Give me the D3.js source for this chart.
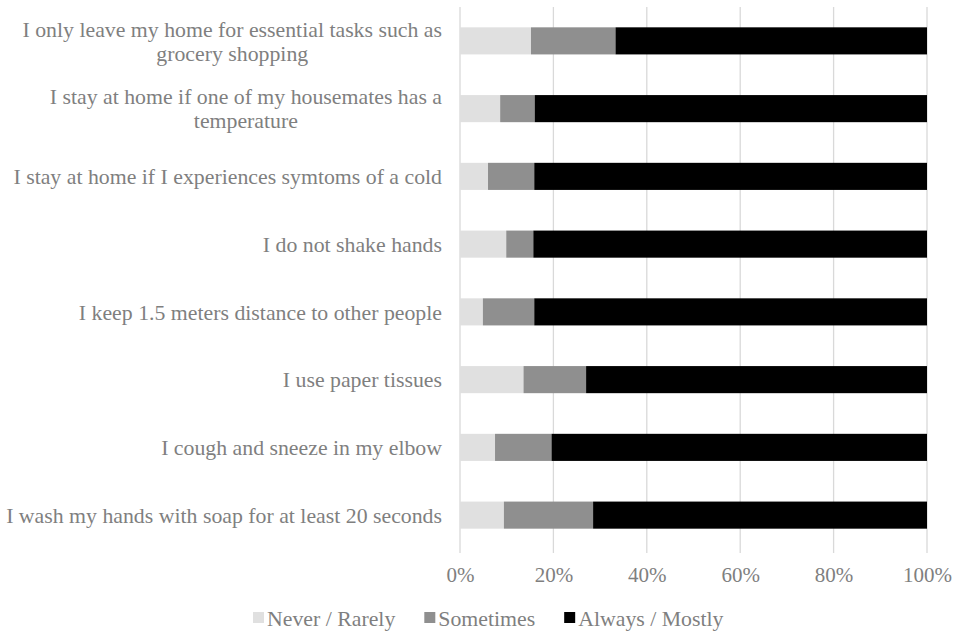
<!DOCTYPE html>
<html>
<head>
<meta charset="utf-8">
<script src="https://cdn.jsdelivr.net/npm/d3@7"></script>
<style>
  body { margin: 0; background: #fff; }
  text { font-family: "Liberation Serif", "Times New Roman", serif; fill: #7f7f7f; }
</style>
</head>
<body>
<svg id="chart" width="967" height="632"></svg>
<script>
// categories top to bottom, each label split into its printed lines
var categories = [
  ["I only leave my home for essential tasks such as", "grocery shopping"],
  ["I stay at home if one of my housemates has a", "temperature"],
  ["I stay at home if I experiences symtoms of a cold"],
  ["I do not shake hands"],
  ["I keep 1.5 meters distance to other people"],
  ["I use paper tissues"],
  ["I cough and sneeze in my elbow"],
  ["I wash my hands with soap for at least 20 seconds"]
];
var seriesNames = ["Never / Rarely", "Sometimes", "Always / Mostly"];
var neverRarely    = [15.2, 8.6, 6.0, 9.9, 4.9, 13.6, 7.5, 9.4];
var sometimes      = [18.1, 7.4, 9.9, 5.8, 11.0, 13.4, 12.1, 19.1];
var alwaysMostly   = [66.7, 84.0, 84.1, 84.3, 84.1, 73.0, 80.4, 71.5];
var tickValues = [0, 0.2, 0.4, 0.6, 0.8, 1.0];

var colors = ["#e0e0e0", "#8f8f8f", "#000000"];
var fontSize = 21.8, tickFontSize = 21;
var serif = "Liberation Serif, Times New Roman, serif";

var svg = d3.select("#chart");
var plotLeft = 460, plotRight = 927, plotTop = 7, plotBottom = 549;

var rows = categories.map(function(c, i) {
  return { key: i, label: c, v: [neverRarely[i], sometimes[i], alwaysMostly[i]] };
});

var x = d3.scaleLinear().domain([0, 1]).range([plotLeft, plotRight]);
var y = d3.scaleBand().domain(rows.map(function(d) { return d.key; }))
  .range([plotTop, plotBottom]).paddingInner(0.6).paddingOuter(0.3);

// gridlines
svg.append("g").selectAll("line").data(tickValues).join("line")
  .attr("x1", function(d) { return x(d); }).attr("x2", function(d) { return x(d); })
  .attr("y1", plotTop).attr("y2", plotBottom + 4)
  .attr("stroke", "#d9d9d9").attr("stroke-width", 1.3);

// stacked bars
var stack = d3.stack().keys([0, 1, 2])
  .value(function(d, k) { var s = d3.sum(d.v); return d.v[k] / s; });
var layers = stack(rows);

svg.append("g").selectAll("g").data(layers).join("g")
  .attr("fill", function(d) { return colors[d.key]; })
  .selectAll("rect").data(function(d) { return d; }).join("rect")
  .attr("x", function(d) { return x(d[0]); })
  .attr("width", function(d) { return x(d[1]) - x(d[0]); })
  .attr("y", function(d) { return y(d.data.key); })
  .attr("height", y.bandwidth());

// x axis tick labels
var xAxis = d3.axisBottom(x).tickValues(tickValues).tickSize(0).tickPadding(0)
  .tickFormat(d3.format(".0%"));
var gx = svg.append("g").attr("transform", "translate(0," + 567 + ")").call(xAxis);
gx.attr("font-family", serif);
gx.select(".domain").remove();
gx.selectAll("text").attr("font-size", tickFontSize).attr("fill", "#7f7f7f");

// category labels (multi-line labels centred within their block, block right-aligned)
var labelRight = 442, lineH = 24;
rows.forEach(function(r) {
  var g = svg.append("g").attr("font-family", serif);
  var cy = y(r.key) + y.bandwidth() / 2;
  var n = r.label.length;
  var texts = r.label.map(function(line, j) {
    return g.append("text")
      .attr("font-size", fontSize)
      .attr("y", cy + (j - (n - 1) / 2) * lineH)
      .attr("dy", "0.35em")
      .text(line);
  });
  var w = d3.max(texts, function(t) { return t.node().getComputedTextLength(); });
  texts.forEach(function(t) {
    t.attr("text-anchor", "middle").attr("x", labelRight - w / 2);
  });
});

// legend
var legend = svg.append("g").attr("transform", "translate(0,618)").attr("font-family", serif);
var items = legend.selectAll("g").data(seriesNames).join("g");
var pos = 253;
items.each(function(d, i) {
  var g = d3.select(this).attr("transform", "translate(" + pos + ",0)");
  g.append("rect").attr("x", 0).attr("y", -6).attr("width", 11).attr("height", 11)
    .attr("fill", colors[i]);
  var t = g.append("text").attr("x", 14).attr("dy", "0.35em").attr("font-size", fontSize).text(d);
  pos += 14 + t.node().getComputedTextLength() + 29;
});
</script>
</body>
</html>
